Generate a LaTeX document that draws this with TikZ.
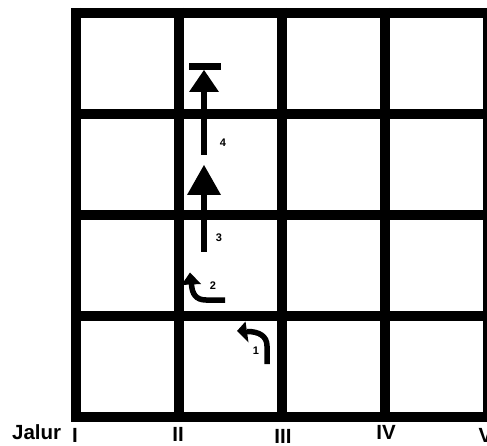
\documentclass[tikz,border=0pt]{standalone}
\usepackage{fontspec}
\setmainfont{Liberation Sans}
\begin{document}
\begin{tikzpicture}[x=1pt,y=-1pt,
  gridline/.style={line width=10pt,black},
  stem/.style={line width=5.5pt,black},
  headfill/.style={fill=black},
  lbl/.style={font=\fontsize{20.5}{20.5}\selectfont\bfseries,inner sep=0pt},
  num/.style={font=\fontsize{11}{11}\selectfont\bfseries,inner sep=0pt}]
\useasboundingbox (0,0) rectangle (487,446);
\clip (0,0) rectangle (487,446);
% grid
\foreach \x in {76,179,282,385,488} \draw[gridline] (\x,8) -- (\x,422);
\foreach \y in {13,114,215,316,417} \draw[gridline] (71,\y) -- (493,\y);
% arrow 1
\draw[stem] (267,364) -- (267,346) .. controls (267,336) and (259,331.5) .. (247,331.5);
\fill[headfill] (237,331) -- (245.5,321.5) -- (248.5,342.5) -- cycle;
\node[num] (n1) at (256,351) {1};
% arrow 2
\draw[stem] (225,300) -- (206,300) .. controls (196,300) and (192,294) .. (191.5,284);
\fill[headfill] (190,272.5) -- (181.5,285) -- (201,284) -- cycle;
\node[num] (n2) at (213,286) {2};
% arrow 3
\draw[line width=6pt] (204,252) -- (204,194);
\fill[headfill] (187,195) -- (221,195) -- (204,165) -- cycle;
\node[num] (n3) at (219,238) {3};
% arrow 4
\draw[line width=6pt] (204,155) -- (204,91);
\fill[headfill] (189,92) -- (219,92) -- (204,70) -- cycle;
\fill[headfill] (189,63) rectangle (221,70);
\node[num] (n4) at (223,143) {4};
% labels
\node[lbl,anchor=base west] (jalur) at (12,439.5) {Jalur};
\node[lbl,anchor=base] (l1) at (75,442) {I};
\node[lbl,anchor=base] (l2) at (178,441) {II};
\node[lbl,anchor=base] (l3) at (283,443) {III};
\node[lbl,anchor=base] (l4) at (386,439) {IV};
\node[lbl,anchor=base] (l5) at (485.5,442) {V};
\end{tikzpicture}
\end{document}
